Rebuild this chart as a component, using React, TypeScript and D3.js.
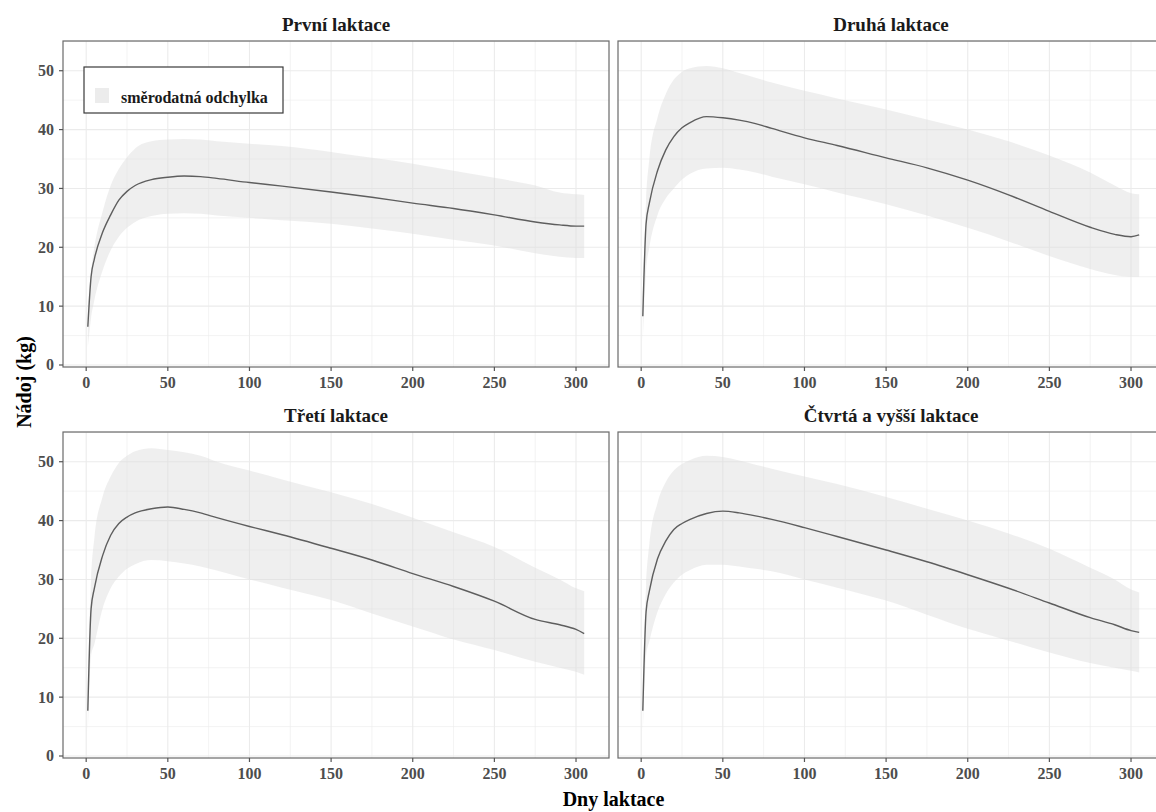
import React from "react";
import * as d3 from "d3";

const panelTitles = ["První laktace", "Druhá laktace", "Třetí laktace", "Čtvrtá a vyšší laktace"];
const days = [1, 3, 5, 10, 15, 20, 25, 30, 40, 50, 60, 70, 80, 100, 120, 150, 175, 200, 225, 250, 275, 290, 300, 305];

const mean1 = [6.5, 15, 18, 22.5, 25.5, 28.0, 29.5, 30.5, 31.5, 31.9, 32.1, 32.0, 31.7, 31.0, 30.4, 29.4, 28.5, 27.5, 26.6, 25.5, 24.3, 23.8, 23.6, 23.6];
const upper1 = [10, 16, 20, 26, 30.5, 33.3, 35.3, 36.8, 38, 38.3, 38.4, 38.3, 38, 37.6, 37.2, 36.2, 35.2, 34.2, 33, 31.8, 30.5, 29.3, 29, 28.9];
const lower1 = [3, 8, 11, 16, 19.5, 21.8, 23.3, 24.3, 25.3, 25.7, 25.8, 25.7, 25.4, 25.0, 24.6, 24.0, 23.2, 22.3, 21.3, 20.3, 19.0, 18.4, 18.2, 18.2];

const mean2 = [8.3, 24, 27.5, 33, 36.5, 38.8, 40.3, 41.2, 42.2, 42, 41.6, 41, 40.2, 38.6, 37.3, 35.2, 33.5, 31.4, 28.9, 26.1, 23.4, 22.2, 21.8, 22.1];
const upper2 = [12, 28, 35, 42, 46, 48.5, 49.8, 50.4, 50.8, 50.4, 49.6, 48.8, 48, 46.6, 45.3, 43.4, 41.7, 40, 38, 35.6, 32.7, 30.5, 29.2, 29];
const lower2 = [4, 16, 20, 25.5, 28.3, 30, 31.5, 32.5, 33.4, 33.5, 33.2, 32.7, 32, 30.7, 29.3, 27.3, 25.4, 23.3, 21, 18.5, 16.3, 15.3, 15, 15];

const mean3 = [7.7, 25, 28.5, 34, 37.5, 39.5, 40.6, 41.3, 42, 42.3, 41.9, 41.3, 40.5, 39, 37.6, 35.3, 33.3, 31, 28.8, 26.3, 23.2, 22.3, 21.5, 20.8];
const upper3 = [12, 30, 37, 44, 47.5, 49.8, 51, 51.8, 52.3, 52, 51.6, 51, 50, 48.5, 47, 44.8, 42.8, 40.5, 38, 35.5, 32, 30, 28.5, 28];
const lower3 = [3, 17, 19, 25, 28.5, 30.5, 31.8, 32.6, 33.3, 33.1, 32.7, 32.2, 31.5, 30, 28.6, 26.5, 24.2, 22, 19.8, 18, 16, 15, 14.3, 13.8];

const mean4 = [7.7, 24.5, 28, 33.5, 36.5, 38.5, 39.5, 40.2, 41.2, 41.6, 41.3, 40.8, 40.2, 38.8, 37.3, 35, 33, 30.8, 28.5, 26, 23.5, 22.3, 21.3, 21];
const upper4 = [12, 29, 36, 43, 46.5, 48.5, 49.6, 50.3, 51, 50.8, 50.2, 49.5, 48.8, 47.5, 46.2, 44, 42, 40, 37.8, 35.2, 32, 30, 28.3, 27.8];
const lower4 = [3, 17, 19.5, 24.5, 27.5, 29.5, 30.8, 31.6, 32.5, 32.5, 32.2, 31.8, 31.4, 30, 28.6, 26.4, 24, 21.6, 19.6, 17.6, 15.8, 15, 14.5, 14.2];

const means = [mean1, mean2, mean3, mean4];
const uppers = [upper1, upper2, upper3, upper4];
const lowers = [lower1, lower2, lower3, lower4];

const xTicks = [0, 50, 100, 150, 200, 250, 300];
const xMinor = [25, 75, 125, 175, 225, 275];
const yTicks = [0, 10, 20, 30, 40, 50];
const yMinor = [5, 15, 25, 35, 45, 55];

const legendLabel = "směrodatná odchylka";
const xTitle = "Dny laktace";
const yTitle = "Nádoj (kg)";

const FONT = "'Liberation Serif', 'Times New Roman', serif";
const PW = 546;
const PH = 326;
const panelPos = [
  { x: 63, y: 41 },
  { x: 618, y: 41 },
  { x: 63, y: 432 },
  { x: 618, y: 432 },
];

function Panel({ i }: { i: number }) {
  const { x: px, y: py } = panelPos[i];
  const xs = d3.scaleLinear().domain([-14.2, 320.2]).range([px, px + PW]);
  const ys = d3.scaleLinear().domain([-0.34, 55.05]).range([py + PH, py]);
  const rows = days.map((d, k) => ({ d, m: means[i][k], lo: lowers[i][k], hi: uppers[i][k] }));
  const area = d3
    .area<any>()
    .x((r) => xs(r.d))
    .y0((r) => ys(r.lo))
    .y1((r) => ys(r.hi))
    .curve(d3.curveMonotoneX);
  const line = d3
    .line<any>()
    .x((r) => xs(r.d))
    .y((r) => ys(r.m))
    .curve(d3.curveMonotoneX);
  const showY = i === 0 || i === 2;
  return (
    <g>
      <rect x={px} y={py} width={PW} height={PH} fill="#fff" />
      {xMinor.map((t) => (
        <line key={"xm" + t} x1={xs(t)} x2={xs(t)} y1={py} y2={py + PH} stroke="#ebebeb" strokeWidth={0.6} />
      ))}
      {yMinor.map((t) => (
        <line key={"ym" + t} x1={px} x2={px + PW} y1={ys(t)} y2={ys(t)} stroke="#ebebeb" strokeWidth={0.6} />
      ))}
      {xTicks.map((t) => (
        <line key={"xg" + t} x1={xs(t)} x2={xs(t)} y1={py} y2={py + PH} stroke="#ebebeb" strokeWidth={1.1} />
      ))}
      {yTicks.map((t) => (
        <line key={"yg" + t} x1={px} x2={px + PW} y1={ys(t)} y2={ys(t)} stroke="#ebebeb" strokeWidth={1.1} />
      ))}
      <path d={area(rows) || ""} fill="#dcdcdc" fillOpacity={0.45} />
      <path d={line(rows) || ""} fill="none" stroke="#5e5e5e" strokeWidth={1.4} />
      <rect x={px} y={py} width={PW} height={PH} fill="none" stroke="#6a6a6a" strokeWidth={1.2} />
      <text x={px + PW / 2} y={py - 10} textAnchor="middle" fontFamily={FONT} fontWeight="bold" fontSize={19} fill="#1a1a1a">
        {panelTitles[i]}
      </text>
      {xTicks.map((t) => (
        <g key={"xt" + t}>
          <line x1={xs(t)} x2={xs(t)} y1={py + PH} y2={py + PH + 4} stroke="#555" strokeWidth={1.2} />
          <text x={xs(t)} y={py + PH + 21} textAnchor="middle" fontFamily={FONT} fontWeight="bold" fontSize={16} fill="#4d4d4d">
            {t}
          </text>
        </g>
      ))}
      {showY &&
        yTicks.map((t) => (
          <g key={"yt" + t}>
            <line x1={px - 4} x2={px} y1={ys(t)} y2={ys(t)} stroke="#555" strokeWidth={1.2} />
            <text x={px - 9} y={ys(t) + 5.5} textAnchor="end" fontFamily={FONT} fontWeight="bold" fontSize={16} fill="#4d4d4d">
              {t}
            </text>
          </g>
        ))}
    </g>
  );
}

export default function App() {
  return (
    <svg width={1156} height={812} style={{ position: "absolute", left: 0, top: 0, background: "#fff" }}>
      <rect x={0} y={0} width={1156} height={812} fill="#fff" />
      {[0, 1, 2, 3].map((i) => (
        <Panel key={i} i={i} />
      ))}
      <g>
        <rect x={84} y={67} width={199} height={46} fill="#fff" stroke="#3a3a3a" strokeWidth={1.2} />
        <rect x={95} y={88} width={14} height={15} fill="#ececec" />
        <text x={121} y={103} fontFamily={FONT} fontWeight="bold" fontSize={16} fill="#1a1a1a">
          {legendLabel}
        </text>
      </g>
      <text x={613.5} y={806} textAnchor="middle" fontFamily={FONT} fontWeight="bold" fontSize={20} fill="#000">
        {xTitle}
      </text>
      <text transform="translate(31,382) rotate(-90)" textAnchor="middle" fontFamily={FONT} fontWeight="bold" fontSize={20} fill="#000">
        {yTitle}
      </text>
    </svg>
  );
}
